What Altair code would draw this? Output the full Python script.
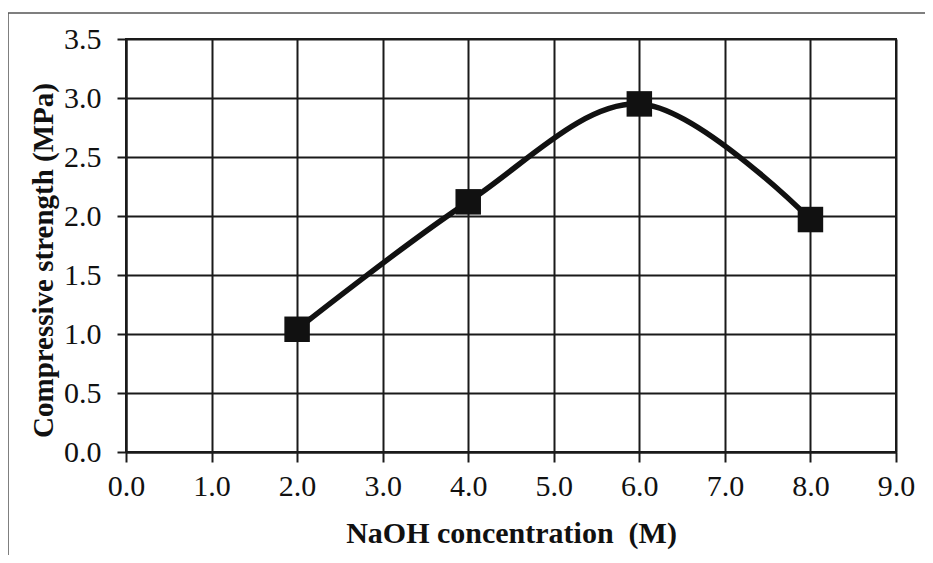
import altair as alt
import pandas as pd

naoh = [2.0, 4.0, 6.0, 8.0]
strength = [1.04, 2.12, 2.95, 1.97]

df = pd.DataFrame({"naoh": naoh, "strength": strength})

GRID = "#1a1a1a"
FONT = "Liberation Serif"

x_enc = alt.X(
    "naoh:Q",
    scale=alt.Scale(domain=[0, 9], nice=False, zero=False),
    axis=alt.Axis(
        title="NaOH concentration \u00a0(M)",
        values=[0, 1, 2, 3, 4, 5, 6, 7, 8, 9],
        format=".1f",
        grid=True,
        gridColor=GRID,
        gridWidth=2,
        gridOpacity=1,
        domainColor=GRID,
        domainWidth=2,
        tickColor=GRID,
        tickWidth=2,
        tickSize=10,
        labelFlush=False,
        labelOverlap=False,
        labelFont=FONT,
        labelFontSize=30,
        labelColor="#111",
        labelPadding=9,
        titleFont=FONT,
        titleFontSize=30,
        titleFontWeight="bold",
        titleColor="#111",
        titleBaseline="alphabetic",
        titleY=90,
    ),
)
y_enc = alt.Y(
    "strength:Q",
    scale=alt.Scale(domain=[0, 3.5], nice=False),
    axis=alt.Axis(
        title="Compressive strength (MPa)",
        values=[0, 0.5, 1.0, 1.5, 2.0, 2.5, 3.0, 3.5],
        format=".1f",
        grid=True,
        gridColor=GRID,
        gridWidth=2,
        gridOpacity=1,
        domainColor=GRID,
        domainWidth=2,
        tickColor=GRID,
        tickWidth=2,
        tickSize=9,
        labelFlush=False,
        labelOverlap=False,
        labelFont=FONT,
        labelFontSize=30,
        labelColor="#111",
        labelPadding=16,
        titleFont=FONT,
        titleFontSize=29,
        titleFontWeight="bold",
        titleColor="#111",
        titleAngle=-90,
        titleBaseline="middle",
        titleX=-83,
        titleY=221,
    ),
)

base = alt.Chart(df)

line = base.mark_line(
    interpolate="catmull-rom", color="#111", strokeWidth=5.5
).encode(x=x_enc, y=y_enc)

points = base.mark_point(
    shape="square", filled=True, size=650, color="#111", opacity=1
).encode(x="naoh:Q", y="strength:Q")

border_src = alt.Data(values=[{"k": 1}])
top_border = alt.Chart(border_src).mark_rule(color="#555", strokeWidth=1.5).encode(
    x=alt.value(-118), x2=alt.value(900), y=alt.value(-26)
)
left_border = alt.Chart(border_src).mark_rule(color="#555", strokeWidth=1.5).encode(
    x=alt.value(-118), y=alt.value(-26), y2=alt.value(600)
)

chart = (
    alt.layer(top_border, left_border, line, points)
    .properties(
        width=770,
        height=413,
        autosize=alt.AutoSizeParams(type="none"),
        padding={"left": 118, "top": 31, "right": 29, "bottom": 103},
        background="white",
    )
    .configure_view(stroke=GRID, strokeWidth=2)
)

chart.save("out.html", embed_options={"renderer": "svg", "actions": False})
